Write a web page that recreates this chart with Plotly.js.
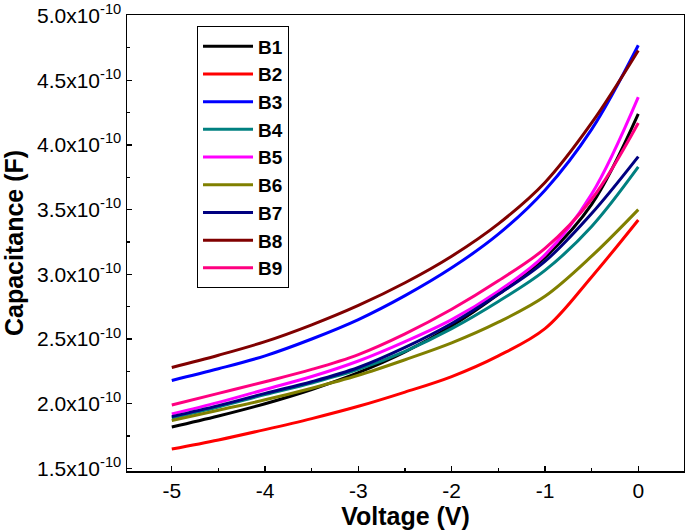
<!DOCTYPE html>
<html>
<head>
<meta charset="utf-8">
<script src="https://cdn.plot.ly/plotly-3.0.1.min.js"></script>
<style>html,body{margin:0;padding:0;background:#fff;}#chart{width:685px;height:531px;}</style>
</head>
<body>
<div id="chart"></div>
<script>
// Voltage (V)
const voltage = [-5, -4.5, -4, -3.5, -3, -2.5, -2, -1.5, -1, -0.5, 0];
// Capacitance in units of 1e-10 F
const capB1 = [1.82, 1.905, 2.00, 2.11, 2.24, 2.40, 2.60, 2.845, 3.13, 3.54, 4.24];
const capB2 = [1.65, 1.72, 1.80, 1.885, 1.98, 2.09, 2.21, 2.37, 2.58, 2.98, 3.42];
const capB3 = [2.18, 2.27, 2.37, 2.50, 2.65, 2.835, 3.05, 3.31, 3.65, 4.12, 4.77];
const capB4 = [1.89, 1.975, 2.07, 2.16, 2.265, 2.405, 2.58, 2.79, 3.03, 3.37, 3.83];
const capB5 = [1.92, 2.01, 2.11, 2.21, 2.33, 2.48, 2.65, 2.87, 3.15, 3.62, 4.37];
const capB6 = [1.87, 1.95, 2.03, 2.12, 2.22, 2.34, 2.47, 2.63, 2.83, 3.14, 3.50];
const capB7 = [1.90, 1.985, 2.08, 2.17, 2.28, 2.435, 2.62, 2.845, 3.10, 3.47, 3.91];
const capB8 = [2.28, 2.375, 2.48, 2.61, 2.76, 2.935, 3.14, 3.39, 3.71, 4.17, 4.73];
const capB9 = [1.99, 2.08, 2.17, 2.265, 2.38, 2.54, 2.73, 2.95, 3.20, 3.58, 4.17];
const seriesNames = ['B1','B2','B3','B4','B5','B6','B7','B8','B9'];
const yTickVals = [1.5, 2.0, 2.5, 3.0, 3.5, 4.0, 4.5, 5.0];
const yTickText = ['1.5x10<sup>-10</sup>','2.0x10<sup>-10</sup>','2.5x10<sup>-10</sup>','3.0x10<sup>-10</sup>','3.5x10<sup>-10</sup>','4.0x10<sup>-10</sup>','4.5x10<sup>-10</sup>','5.0x10<sup>-10</sup>'];
const xTickVals = [-5, -4, -3, -2, -1, 0];
const xTickText = ['-5', '-4', '-3', '-2', '-1', '0'];

const colors = ['#000000','#ff0000','#0000ff','#008080','#ff00ff','#808000','#000080','#800000','#ff0080'];
const ys = [capB1, capB2, capB3, capB4, capB5, capB6, capB7, capB8, capB9];
const traces = ys.map((y, i) => ({
  x: voltage,
  y: y,
  name: seriesNames[i],
  type: 'scatter',
  mode: 'lines',
  line: {color: colors[i], width: 3, shape: 'spline', smoothing: 1}
}));

const font = 'Liberation Sans, Arial, sans-serif';
const layout = {
  width: 685, height: 531,
  margin: {l: 127, r: 1, t: 15, b: 60},
  paper_bgcolor: '#fff', plot_bgcolor: '#fff',
  font: {family: font, color: '#000'},
  showlegend: true,
  legend: {
    x: 0.1257, y: 0.975, xanchor: 'left', yanchor: 'top',
    bgcolor: '#fff', bordercolor: '#000', borderwidth: 1,
    font: {family: font, size: 19, color: '#000', weight: 'bold'},
    itemwidth: 50, tracegroupgap: 0
  },
  xaxis: {
    range: [-5.48, 0.49],
    tickvals: xTickVals, ticktext: xTickText,
    ticks: 'inside', ticklen: 5, tickwidth: 1.2, tickcolor: '#000',
    minor: {dtick: 0.5, ticks: 'inside', ticklen: 3, tickcolor: '#000'},
    showgrid: false, zeroline: false,
    showline: true, linecolor: '#000', linewidth: 1.5, mirror: true,
    tickfont: {family: font, size: 21, color: '#000'},
    title: {text: '<b>Voltage (V)</b>', font: {family: font, size: 25, color: '#000'}, standoff: 6}
  },
  yaxis: {
    range: [1.48, 5.004],
    tickvals: yTickVals, ticktext: yTickText,
    ticks: 'inside', ticklen: 5, tickwidth: 1.2, tickcolor: '#000',
    minor: {dtick: 0.25, ticks: 'inside', ticklen: 3, tickcolor: '#000'},
    showgrid: false, zeroline: false,
    showline: true, linecolor: '#000', linewidth: 1.5, mirror: true,
    tickfont: {family: font, size: 21, color: '#000'},
    title: {text: '<b>Capacitance (F)</b>', font: {family: font, size: 25, color: '#000'}, standoff: 10}
  }
};
Plotly.newPlot('chart', traces, layout, {displayModeBar: false, staticPlot: true});
</script>
</body>
</html>
